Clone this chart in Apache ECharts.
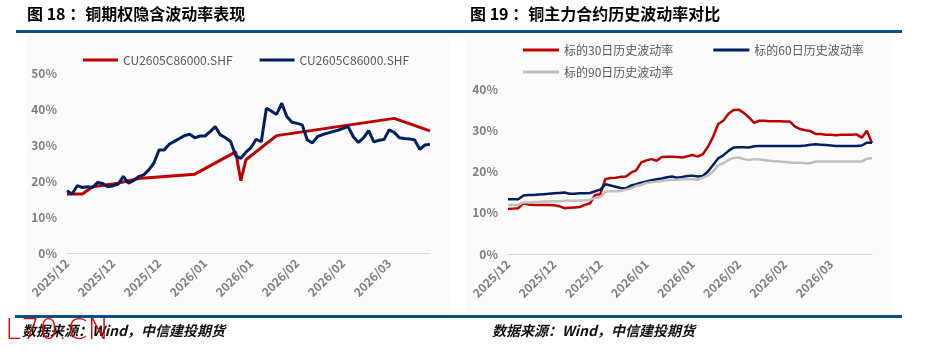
<!DOCTYPE html>
<html><head><meta charset="utf-8">
<script src="https://cdn.jsdelivr.net/npm/echarts@6/dist/echarts.min.js"></script>
<style>html,body{margin:0;padding:0;background:#fff;}#c{width:925px;height:355px;}</style>
</head><body><div id="c"></div>
<script>
const dates = [
 "2025/12/01","2025/12/02","2025/12/03","2025/12/04","2025/12/05","2025/12/08","2025/12/09","2025/12/10","2025/12/11","2025/12/12",
 "2025/12/15","2025/12/16","2025/12/17","2025/12/18","2025/12/19","2025/12/22","2025/12/23","2025/12/24","2025/12/25","2025/12/26",
 "2025/12/29","2025/12/30","2025/12/31",
 "2026/01/05","2026/01/06","2026/01/07","2026/01/08","2026/01/09","2026/01/12","2026/01/13","2026/01/14","2026/01/15","2026/01/16",
 "2026/01/19","2026/01/20","2026/01/21","2026/01/22","2026/01/23","2026/01/26","2026/01/27","2026/01/28","2026/01/29","2026/01/30",
 "2026/02/02","2026/02/03","2026/02/04","2026/02/05","2026/02/06","2026/02/09","2026/02/10","2026/02/11","2026/02/12","2026/02/13",
 "2026/02/24","2026/02/25","2026/02/26","2026/02/27",
 "2026/03/02","2026/03/03","2026/03/04","2026/03/05","2026/03/06","2026/03/09","2026/03/10","2026/03/11","2026/03/12","2026/03/13",
 "2026/03/16","2026/03/17","2026/03/18","2026/03/19","2026/03/20"
];
// Fig 18: implied vol (red sparse series, blue daily series)
const ivRed = [16.4,null,null,16.4,null,18.4,null,null,null,null,
 19.4,null,null,null,20.7,null,null,null,null,null,
 null,null,null,null,null,21.9,null,null,null,null,
 null,null,null,28.1,20.1,25.9,null,null,null,null,
 null,32.6,null,null,null,null,null,null,null,null,
 null,null,null,null,null,null,null,null,null,null,
 null,null,null,null,37.4,null,null,null,null,null,
 null,33.9];
const ivBlue = [17.3,16.4,18.7,18.2,18.4,18.2,19.6,19.3,18.4,18.7,
 19.1,21.3,19.4,20.1,21.2,21.7,23.1,25.0,28.6,28.6,
 30.2,31.0,31.8,32.6,33.0,32.0,32.5,32.5,33.7,35.1,
 32.8,32.0,31.0,27.0,26.3,28.0,29.3,31.6,30.9,40.2,
 39.4,38.5,41.6,37.9,36.3,36.0,35.6,31.4,30.6,32.3,
 32.9,33.3,33.7,34.1,34.6,35.1,32.3,30.7,32.0,34.0,
 30.9,31.3,31.5,34.2,33.5,32.0,31.8,31.7,31.4,28.8,
 30.0,30.2];
// Fig 19: historical vol
const hv30 = [10.9,11.0,11.1,12.3,12.0,11.9,11.9,11.9,11.9,11.8,
 11.6,11.1,11.2,11.3,11.4,11.9,12.3,14.3,14.5,18.2,
 18.4,18.5,18.7,18.8,19.7,20.3,22.2,22.7,23.0,22.6,
 23.5,23.6,23.6,23.5,23.4,23.7,24.0,23.6,24.2,26.0,
 28.4,31.5,32.3,34.0,34.9,35.0,34.2,33.1,31.8,32.3,
 32.3,32.2,32.2,32.2,32.1,32.1,30.9,30.3,30.0,29.8,
 29.1,29.1,28.9,28.9,28.8,28.9,28.9,28.9,29.0,28.2,
 29.9,26.9];
const hv60 = [13.3,13.3,13.3,14.2,14.3,14.3,14.4,14.5,14.6,14.7,
 14.8,14.9,14.6,14.6,14.7,14.7,14.8,15.2,15.6,16.9,
 16.6,16.3,16.0,15.9,16.6,16.9,17.3,17.6,17.9,18.1,
 18.3,18.6,18.8,18.5,18.7,18.9,19.0,18.8,18.9,20.0,
 21.6,23.2,23.9,25.0,25.8,25.9,25.9,25.8,26.1,26.2,
 26.2,26.2,26.2,26.2,26.2,26.2,26.2,26.2,26.3,26.5,
 26.6,26.5,26.4,26.3,26.2,26.2,26.2,26.2,26.2,26.3,
 27.0,27.0];
const hv90 = [11.9,11.9,11.9,12.5,12.5,12.6,12.6,12.7,12.7,12.8,
 12.8,12.9,12.9,12.9,13.0,13.0,13.1,13.6,13.8,15.1,
 15.2,15.2,15.3,15.6,15.9,16.5,16.8,17.2,17.4,17.5,
 17.7,17.9,18.0,18.0,18.1,18.1,18.1,18.0,18.5,19.0,
 20.0,21.5,22.0,22.8,23.3,23.4,23.0,22.8,23.0,22.9,
 22.8,22.6,22.5,22.4,22.3,22.2,22.1,22.1,22.0,22.0,
 22.4,22.4,22.4,22.4,22.4,22.4,22.4,22.4,22.4,22.4,
 23.1,23.2];
const ivNames = ["CU2605C86000.SHF", "CU2605C86000.SHF "];
const hvNames = ["标的30日历史波动率", "标的60日历史波动率", "标的90日历史波动率"];
const titles = ["图 18 ：铜期权隐含波动率表现", "图 19 ：铜主力合约历史波动率对比"];
const source = "数据来源：Wind，中信建投期货";

const RED = "#c00000", NAVY = "#002060", GRAY = "#bfbfbf", RULE = "#0c4f86";
const labelFont = {color: "#7f7f7f", fontSize: 12, fontWeight: "bold", fontFamily: "'Noto Sans CJK SC', 'Open Sans', sans-serif"};
function xAxis(gi){
  return {type:"category", gridIndex:gi, data:dates, boundaryGap:false,
    axisLine:{lineStyle:{color:"#d9d9d9", width:1}}, axisTick:{show:false},
    axisLabel:Object.assign({interval:8, rotate:45, margin:8, formatter:v=>v.slice(0,7)}, labelFont)};
}
function yAxis(gi, max){
  return {type:"value", gridIndex:gi, min:0, max:max, interval:10,
    axisLine:{show:false}, axisTick:{show:false}, splitLine:{show:false},
    axisLabel:Object.assign({margin:10, formatter:v=>v+"%"}, labelFont)};
}
const legText = {color:"#595959", fontSize:12, fontFamily:"'Noto Sans CJK SC', 'Open Sans', sans-serif"};
const chart = echarts.init(document.getElementById("c"), null, {renderer:"canvas"});
chart.setOption({
  animation:false,
  backgroundColor:"#ffffff",
  graphic:[
    {type:"rect", shape:{x:27,y:36,width:423,height:278}, style:{fill:"#fbfbfb"}, z:-10},
    {type:"rect", shape:{x:466,y:36,width:426,height:276}, style:{fill:"#fbfbfb"}, z:-10},
    {type:"text", left:27, top:6, style:{text:titles[0], font:"bold 16px 'Noto Sans CJK SC'", fill:"#000"}},
    {type:"text", left:470, top:6, style:{text:titles[1], font:"bold 16px 'Noto Sans CJK SC'", fill:"#000"}},
    {type:"rect", shape:{x:16,y:30,width:444,height:3}, style:{fill:RULE}},
    {type:"rect", shape:{x:460,y:30,width:442,height:3}, style:{fill:RULE}},
    {type:"rect", shape:{x:15,y:315,width:445,height:3}, style:{fill:RULE}},
    {type:"rect", shape:{x:460,y:315,width:442,height:3}, style:{fill:RULE}},
    {type:"text", left:22, top:324, style:{text:source, font:"italic bold 14px 'Noto Sans CJK SC'", fill:"#111"}},
    {type:"text", left:492, top:324, style:{text:source, font:"italic bold 14px 'Noto Sans CJK SC'", fill:"#111"}},
    {type:"text", left:5, top:317, style:{text:"L70.CN", font:"300 29px 'DejaVu Sans'", fill:"#e00000"}, z:100}
  ],
  legend:[
    {data:ivNames, left:78, top:49, icon:"rect", itemWidth:35, itemHeight:3, itemGap:27,
     textStyle:legText, formatter:n=>n.trim(), selectedMode:false},
    {data:[hvNames[0], hvNames[1]], left:518, top:39, icon:"rect", itemWidth:36, itemHeight:3, itemGap:40,
     textStyle:legText, selectedMode:false},
    {data:[hvNames[2]], left:518, top:61, icon:"rect", itemWidth:36, itemHeight:3,
     textStyle:legText, selectedMode:false}
  ],
  grid:[
    {left:67, top:73, width:363, height:180},
    {left:508, top:89, width:364, height:165}
  ],
  xAxis:[xAxis(0), xAxis(1)],
  yAxis:[yAxis(0,50), yAxis(1,40)],
  series:[
    {name:ivNames[0], type:"line", xAxisIndex:0, yAxisIndex:0, data:ivRed, connectNulls:true, symbol:"none",
     lineStyle:{color:RED, width:3}, itemStyle:{color:RED}},
    {name:ivNames[1], type:"line", xAxisIndex:0, yAxisIndex:0, data:ivBlue, symbol:"none",
     lineStyle:{color:NAVY, width:3}, itemStyle:{color:NAVY}},
    {name:hvNames[0], type:"line", xAxisIndex:1, yAxisIndex:1, data:hv30, symbol:"none",
     lineStyle:{color:RED, width:2.5}, itemStyle:{color:RED}},
    {name:hvNames[1], type:"line", xAxisIndex:1, yAxisIndex:1, data:hv60, symbol:"none",
     lineStyle:{color:NAVY, width:2.5}, itemStyle:{color:NAVY}},
    {name:hvNames[2], type:"line", xAxisIndex:1, yAxisIndex:1, data:hv90, symbol:"none",
     lineStyle:{color:GRAY, width:2.5}, itemStyle:{color:GRAY}}
  ]
});
</script></body></html>
